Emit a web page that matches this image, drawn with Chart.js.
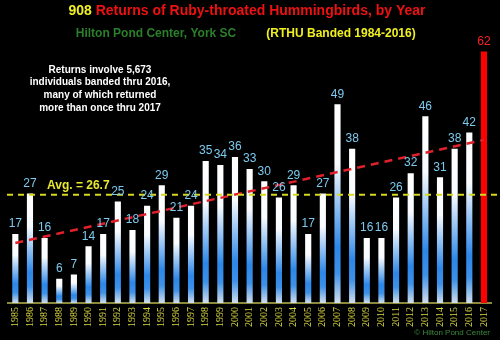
<!DOCTYPE html>
<html>
<head>
<meta charset="utf-8">
<script src="https://cdn.jsdelivr.net/npm/chart.js@4.4.1/dist/chart.umd.min.js"></script>
<style>
  html, body { margin: 0; padding: 0; background: #000; }
  #wrap { width: 500px; height: 340px; position: relative; }
</style>
</head>
<body>
<div id="wrap"><canvas id="chart"></canvas></div>
<script>
// returns per year
var years = ['1985','1986','1987','1988','1989','1990','1991','1992','1993','1994','1995',
             '1996','1997','1998','1999','2000','2001','2002','2003','2004','2005','2006',
             '2007','2008','2009','2010','2011','2012','2013','2014','2015','2016','2017'];
var returns = [17, 27, 16, 6, 7, 14, 17, 25, 18, 24, 29,
               21, 24, 35, 34, 36, 33, 30, 26, 29, 17, 27,
               49, 38, 16, 16, 26, 32, 46, 31, 38, 42, 62];
var average = 26.7;
// dashed trend line, only its two ends
var trend = [14.8, null, null, null, null, null, null, null, null, null, null,
             null, null, null, null, null, null, null, null, null, null, null,
             null, null, null, null, null, null, null, null, null, null, 40.2];
var noteLines = ['Returns involve 5,673', 'individuals banded thru 2016,',
                 'many of which returned', 'more than once thru 2017'];

var fontFace = '"Liberation Sans", Arial, sans-serif';

function barFill(ctx) {
    var chart = ctx.chart;
    if (ctx.type !== 'data' || !chart.chartArea) return '#ffffff';
    var i = ctx.dataIndex;
    if (i === returns.length - 1) return '#ff0000';
    var y = chart.scales.y;
    var top = y.getPixelForValue(returns[i]);
    var base = y.getPixelForValue(0);
    var g = chart.ctx.createLinearGradient(0, top, 0, base);
    g.addColorStop(0, '#ffffff');
    g.addColorStop(0.3, '#f8fbff');
    g.addColorStop(0.72, '#2c87e8');
    g.addColorStop(0.85, '#3d91e8');
    g.addColorStop(1, '#d2deec');
    return g;
}

var decor = {
    id: 'decor',
    beforeDraw: function (chart) {
        var c = chart.ctx;
        c.save();
        c.fillStyle = '#000';
        c.fillRect(0, 0, chart.width, chart.height);
        c.restore();
    },
    afterDatasetsDraw: function (chart) {
        var c = chart.ctx;
        var y = chart.scales.y;
        var area = chart.chartArea;
        c.save();
        // average line
        var ay = y.getPixelForValue(average);
        c.strokeStyle = '#d8d820';
        c.lineWidth = 2;
        c.setLineDash([6, 5]);
        c.beginPath();
        c.moveTo(area.left - 1, ay);
        c.lineTo(chart.width, ay);
        c.stroke();
        c.setLineDash([]);

        // value labels
        var meta = chart.getDatasetMeta(0);
        c.textAlign = 'center';
        c.textBaseline = 'bottom';
        c.font = '12px ' + fontFace;
        meta.data.forEach(function (bar, i) {
            c.fillStyle = i === returns.length - 1 ? '#ff2020' : '#7ccaf0';
            c.fillText(String(returns[i]), bar.x, bar.y - 4);
        });

        // avg text
        c.textAlign = 'left';
        c.textBaseline = 'middle';
        c.fillStyle = '#e8e830';
        c.font = 'bold 12px ' + fontFace;
        c.fillText('Avg. = ' + average, 47, ay - 9);

        // titles
        c.textAlign = 'left';
        c.font = 'bold 14px ' + fontFace;
        var a = '908 ', b = 'Returns of Ruby-throated Hummingbirds, by Year';
        var wa = c.measureText(a).width, wb = c.measureText(b).width;
        var x0 = 247 - (wa + wb) / 2;
        c.fillStyle = '#f0f020';
        c.fillText(a, x0, 11);
        c.fillStyle = '#ee1111';
        c.fillText(b, x0 + wa, 11);

        c.font = 'bold 12px ' + fontFace;
        c.fillStyle = '#2a7f2a';
        c.textAlign = 'center';
        c.fillText('Hilton Pond Center, York SC', 156, 34);
        c.fillStyle = '#f0f020';
        c.fillText('(RTHU Banded 1984-2016)', 341, 34);

        // note
        c.fillStyle = '#ffffff';
        c.font = 'bold 10px ' + fontFace;
        noteLines.forEach(function (t, k) {
            c.fillText(t, 100, 70 + k * 12.6);
        });

        // credit
        c.fillStyle = '#3a8a3a';
        c.font = '8px ' + fontFace;
        c.textAlign = 'right';
        c.fillText('\u00a9 Hilton Pond Center', 490, 333);
        c.restore();
    }
};

new Chart(document.getElementById('chart'), {
    data: {
        labels: years,
        datasets: [{
            type: 'bar',
            data: returns,
            backgroundColor: barFill,
            barPercentage: 0.42,
            categoryPercentage: 1,
            order: 2
        }, {
            type: 'line',
            data: trend,
            spanGaps: true,
            borderColor: '#e0202a',
            borderWidth: 2.5,
            borderDash: [8, 6],
            pointRadius: 0,
            fill: false,
            order: 1
        }]
    },
    options: {
        responsive: true,
        maintainAspectRatio: false,
        animation: false,
        layout: { padding: { top: 19, left: 8, right: 4, bottom: 9 } },
        plugins: { legend: { display: false }, tooltip: { enabled: false } },
        scales: {
            x: {
                grid: { display: false, drawTicks: false },
                border: { color: '#8a8a3c', width: 2 },
                ticks: {
                    color: '#d8d840',
                    font: { family: '"Liberation Serif", serif', size: 10 },
                    maxRotation: 90,
                    minRotation: 90,
                    autoSkip: false,
                    padding: 4
                }
            },
            y: {
                display: false,
                min: 0,
                max: 70
            }
        }
    },
    plugins: [decor]
});
</script>
</body>
</html>
